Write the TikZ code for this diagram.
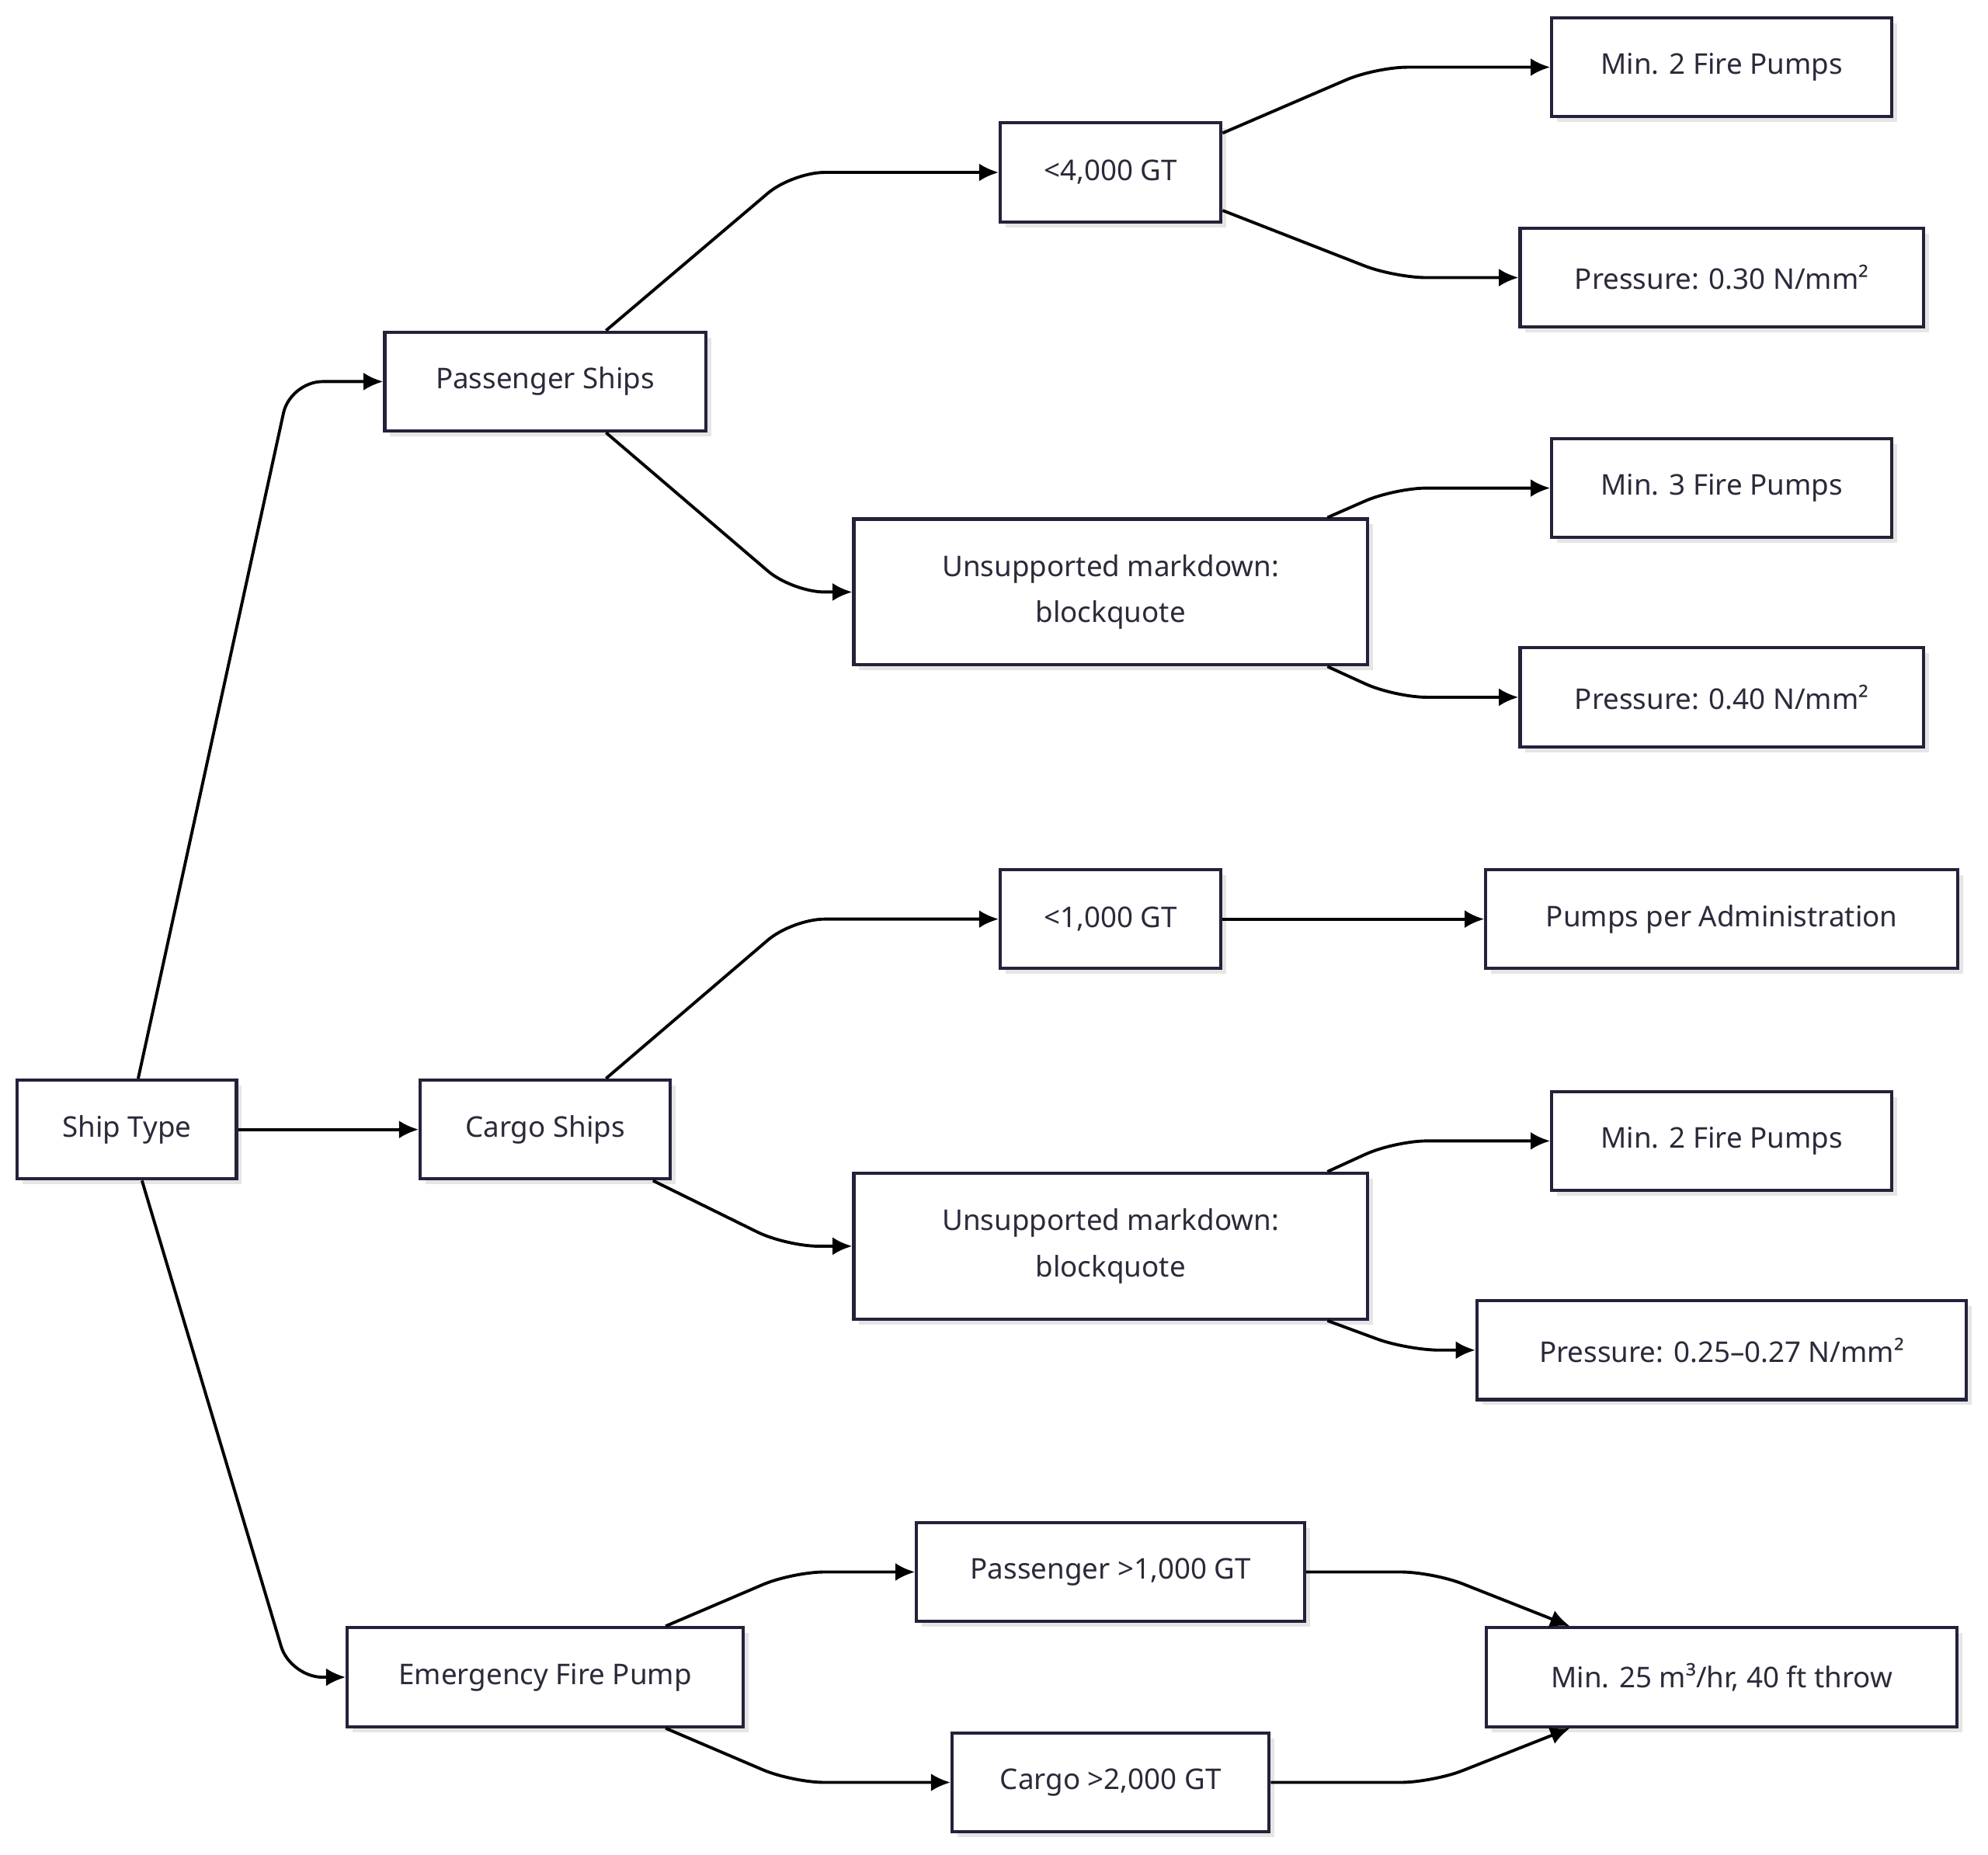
\documentclass[tikz,border=0pt]{standalone}
\usepackage{fontspec}
\setmainfont{Noto Sans}
\usetikzlibrary{arrows.meta,shadows,calc}
\definecolor{bd}{HTML}{22223A}
\definecolor{tx}{HTML}{2A2A3A}
\begin{document}
\begin{tikzpicture}[x=0.025cm,y=-0.025cm,
 box/.style={draw=bd,line width=1.8pt,fill=white,minimum height=1.95cm,inner sep=0pt,
   text=tx,font=\fontsize{16}{26}\selectfont,align=center,
   drop shadow={shadow xshift=3pt,shadow yshift=-3pt,fill=gray!40,opacity=0.5}},
 tall/.style={box,minimum height=2.875cm},
 e/.style={draw=black,line width=1.7pt,rounded corners=18pt,-{Latex[length=11pt,width=10pt]}}]
\useasboundingbox (0,0) rectangle (1568,1463);
\node[box,minimum width=4.325cm] (st) at (100,891) {Ship Type};
\node[box,minimum width=6.325cm] (ps) at (430,301) {Passenger Ships};
\node[box,minimum width=4.925cm] (cs) at (430,891) {Cargo Ships};
\node[box,minimum width=7.8cm] (ef) at (430,1323) {Emergency Fire Pump};
\node[box,minimum width=4.35cm] (a) at (876,136) {<4,000 GT};
\node[tall,minimum width=10.125cm] (bq1) at (876,467) {Unsupported markdown:\\blockquote};
\node[box,minimum width=4.35cm] (b) at (876,725) {<1,000 GT};
\node[tall,minimum width=10.125cm] (bq2) at (876,983) {Unsupported markdown:\\blockquote};
\node[box,minimum width=7.65cm] (pg) at (876,1240) {Passenger >1,000 GT};
\node[box,minimum width=6.25cm] (cg) at (876,1406) {Cargo >2,000 GT};
\node[box,minimum width=6.7cm] (m1) at (1358,53) {Min. 2 Fire Pumps};
\node[box,minimum width=7.95cm] (p1) at (1358,219) {Pressure: 0.30 N/mm²};
\node[box,minimum width=6.7cm] (m2) at (1358,385) {Min. 3 Fire Pumps};
\node[box,minimum width=7.95cm] (p2) at (1358,550) {Pressure: 0.40 N/mm²};
\node[box,minimum width=9.3cm] (ad) at (1358,725) {Pumps per Administration};
\node[box,minimum width=6.7cm] (m3) at (1358,900) {Min. 2 Fire Pumps};
\node[box,minimum width=9.65cm] (p3) at (1358,1065) {Pressure: 0.25–0.27 N/mm²};
\node[box,minimum width=9.275cm] (mf) at (1358,1323) {Min. 25 m³/hr, 40 ft throw};

\draw[e] ($(st.north)+(9,0)$) -- (229,301) -- (ps.west);
\draw[e] (st.east) -- (cs.west);
\draw[e] ($(st.south)+(12,0)$) -- (229,1323) -- (ef.west);
\draw[e] ($(ps.north)+(48,0)$) -- (625,136) -- (a.west);
\draw[e] ($(ps.south)+(48,0)$) -- (625,467) -- (bq1.west);
\draw[e] ($(cs.north)+(48,0)$) -- (625,725) -- (b.west);
\draw[e] ($(cs.south)+(85,0)$) -- (620,983) -- (bq2.west);
\draw[e] ($(ef.north)+(95,0)$) -- (625,1240) -- (pg.west);
\draw[e] ($(ef.south)+(95,0)$) -- (625,1406) -- (cg.west);
\draw[e] ($(a.east)+(0,-31)$) -- (1085,53) -- (m1.west);
\draw[e] ($(a.east)+(0,30)$) -- (1100,219) -- (p1.west);
\draw[e] ($(bq1.north)+(171,0)$) -- (1100,385) -- (m2.west);
\draw[e] ($(bq1.south)+(171,0)$) -- (1100,550) -- (p2.west);
\draw[e] (b.east) -- (ad.west);
\draw[e] ($(bq2.north)+(171,0)$) -- (1100,900) -- (m3.west);
\draw[e] ($(bq2.south)+(171,0)$) -- (1110,1065) -- (p3.west);
\draw[e] (pg.east) -- (1130,1240) -- ($(mf.north west)+(67,0)$);
\draw[e] (cg.east) -- (1130,1406) -- ($(mf.south west)+(67,0)$);
\end{tikzpicture}
\end{document}
